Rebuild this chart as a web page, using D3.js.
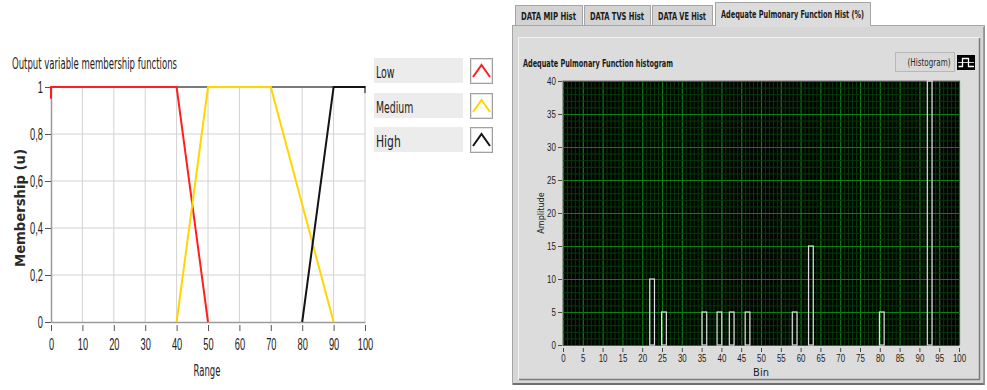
<!DOCTYPE html>
<html>
<head>
<meta charset="utf-8">
<script src="https://cdn.jsdelivr.net/npm/d3@7"></script>
<style>
  body { margin: 0; background: #ffffff; }
  svg { display: block; font-family: "Liberation Sans Narrow", "DejaVu Sans Condensed", sans-serif; }
</style>
</head>
<body>
<svg id="chart" width="987" height="390"></svg>
<script>
// ---------- Output variable membership functions ----------
const rangeTicks = [0, 10, 20, 30, 40, 50, 60, 70, 80, 90, 100];
const membershipTicks = [0, 0.2, 0.4, 0.6, 0.8, 1];
const lowRange = [0, 0, 40, 50];
const lowMembership = [0.95, 1, 1, 0];
const mediumRange = [40, 50, 70, 90];
const mediumMembership = [0, 1, 1, 0];
const highRange = [80, 90, 100];
const highMembership = [0, 1, 1];
const setNames = ["Low", "Medium", "High"];
const setColors = ["#ff1f1f", "#ffd600", "#141414"];

// ---------- Adequate Pulmonary Function histogram ----------
const tabNames = ["DATA MIP Hist", "DATA TVS Hist", "DATA VE Hist", "Adequate Pulmonary Function Hist (%)"];
const binTicks = [0, 5, 10, 15, 20, 25, 30, 35, 40, 45, 50, 55, 60, 65, 70, 75, 80, 85, 90, 95, 100];
const amplitudeTicks = [0, 5, 10, 15, 20, 25, 30, 35, 40];
const binStart = [21.9, 24.9, 35.1, 38.9, 42.0, 46.0, 57.9, 62.0, 79.9, 92.0];
const binCount = [10, 5, 5, 5, 5, 5, 5, 15, 5, 40];
const binWidth = 1.2;

const svg = d3.select("#chart");

// squeeze text horizontally while keeping its anchor position
function squeeze(sel, sx) {
  sel.each(function () {
    const t = d3.select(this);
    const x = +t.attr("x") || 0;
    t.attr("x", x / sx).attr("transform", `scale(${sx},1)`);
  });
}

// =============== left chart ===============
const xL = d3.scaleLinear().domain([0, 100]).range([51, 365]);
const yL = d3.scaleLinear().domain([0, 1]).range([322, 87]);
const left = svg.append("g");

left.append("text")
  .attr("x", 12).attr("y", 69)
  .attr("font-size", 16).attr("fill", "#222")
  .attr("textLength", 165).attr("lengthAdjust", "spacingAndGlyphs")
  .text("Output variable membership functions");

// grid
left.append("g").selectAll("line").data(rangeTicks.slice(1, -1)).join("line")
  .attr("x1", d => xL(d)).attr("x2", d => xL(d))
  .attr("y1", yL(0)).attr("y2", yL(1))
  .attr("stroke", "#d2d2d2").attr("stroke-width", 1);
left.append("g").selectAll("line").data(membershipTicks.slice(1, -1)).join("line")
  .attr("x1", xL(0)).attr("x2", xL(100))
  .attr("y1", d => yL(d)).attr("y2", d => yL(d))
  .attr("stroke", "#d2d2d2").attr("stroke-width", 1);

// frame: right edge and top edge
left.append("line").attr("x1", xL(100)).attr("x2", xL(100)).attr("y1", yL(1)).attr("y2", yL(0))
  .attr("stroke", "#cfcfcf");
left.append("line").attr("x1", xL(0)).attr("x2", xL(100) + 1).attr("y1", yL(1)).attr("y2", yL(1))
  .attr("stroke", "#7a7a7a").attr("stroke-width", 2);
left.append("line").attr("x1", xL(100)).attr("x2", xL(100)).attr("y1", yL(1) - 1).attr("y2", yL(1) + 6)
  .attr("stroke", "#555").attr("stroke-width", 1.5);

// axes
const fmtU = d => d === 0 ? "0" : d === 1 ? "1" : d3.format(".1f")(d).replace(".", ",");
const yAxisL = left.append("g").attr("transform", `translate(${xL(0)},0)`)
  .call(d3.axisLeft(yL).tickValues(membershipTicks).tickFormat(fmtU).tickSize(6).tickSizeOuter(0).tickPadding(2));
const xAxisL = left.append("g").attr("transform", `translate(0,${yL(0)})`)
  .call(d3.axisBottom(xL).tickValues(rangeTicks).tickSize(9).tickSizeOuter(0));
[yAxisL, xAxisL].forEach(a => {
  a.select(".domain").attr("stroke", "#9a9a9a").attr("stroke-width", 1.5);
  a.selectAll(".tick line").attr("stroke", "#555");
  a.selectAll(".tick text").attr("font-size", 16).attr("fill", "#222")
    .attr("font-family", "Liberation Sans Narrow, sans-serif");
});
xAxisL.selectAll(".tick line").attr("y1", 3);
xAxisL.selectAll(".tick text").attr("dy", 0).attr("y", 28);
yAxisL.selectAll(".tick text").attr("dy", "0.36em");
squeeze(yAxisL.selectAll(".tick text"), 0.58);
squeeze(xAxisL.selectAll(".tick text"), 0.58);

left.append("text")
  .attr("transform", "translate(25,208) rotate(-90)")
  .attr("text-anchor", "middle").attr("font-size", 14).attr("font-weight", "bold").attr("fill", "#2a2a2a")
  .attr("textLength", 118).attr("lengthAdjust", "spacingAndGlyphs")
  .text("Membership (u)");
left.append("text")
  .attr("x", 207).attr("y", 376).attr("text-anchor", "middle")
  .attr("font-size", 16).attr("fill", "#222")
  .attr("textLength", 27).attr("lengthAdjust", "spacingAndGlyphs")
  .text("Range");

// membership curves
const curveLine = d3.line().x(d => xL(d[0])).y(d => yL(d[1]));
const sets = [
  d3.zip(lowRange, lowMembership),
  d3.zip(mediumRange, mediumMembership),
  d3.zip(highRange, highMembership)
];
left.append("g").selectAll("path").data(sets).join("path")
  .attr("d", curveLine)
  .attr("fill", "none")
  .attr("stroke", (d, i) => setColors[i])
  .attr("stroke-width", 2)
  .attr("stroke-linejoin", "miter");

// legend
const legendRowY = [58, 93, 127];
const legend = left.append("g");
setNames.forEach((name, i) => {
  const y0 = legendRowY[i];
  legend.append("rect").attr("x", 374).attr("y", y0).attr("width", 89).attr("height", 25).attr("fill", "#ececec");
  legend.append("text").attr("x", 376).attr("y", y0 + 20)
    .attr("font-size", 16).attr("fill", "#222")
    .attr("textLength", name.length * 6.2).attr("lengthAdjust", "spacingAndGlyphs")
    .text(name);
  legend.append("rect").attr("x", 470.5).attr("y", y0 + 0.5).attr("width", 22).attr("height", 25)
    .attr("fill", "#ffffff").attr("stroke", "#a0a0a0");
  legend.append("rect").attr("x", 471.5).attr("y", y0 + 1.5).attr("width", 20).attr("height", 23)
    .attr("fill", "none").attr("stroke", "#e4e4e4");
  legend.append("polyline")
    .attr("points", `${473},${y0 + 19} ${481.5},${y0 + 7} ${490},${y0 + 19}`)
    .attr("fill", "none").attr("stroke", setColors[i]).attr("stroke-width", 2);
});

// =============== right panel ===============
const right = svg.append("g");

// tabs
const tabX = [[515, 582], [584, 650], [652, 712], [715, 870]];
tabNames.forEach((name, i) => {
  const [a, b] = tabX[i];
  const active = i === 3;
  right.append("rect")
    .attr("x", a + 0.5).attr("y", active ? 2.5 : 5.5)
    .attr("width", b - a).attr("height", active ? 24 : 21)
    .attr("fill", active ? "#dcdcdc" : "#d3d3d3")
    .attr("stroke", "#a4a4a4");
  right.append("text")
    .attr("x", (a + b) / 2).attr("y", active ? 18 : 20)
    .attr("text-anchor", "middle").attr("font-size", 10).attr("font-weight", "bold").attr("fill", "#1a1a1a")
    .attr("textLength", (b - a) - 12).attr("lengthAdjust", "spacingAndGlyphs")
    .text(name);
});

// panel body
right.append("rect").attr("x", 512.5).attr("y", 25.5).attr("width", 472).attr("height", 359)
  .attr("fill", "#d6d6d6").attr("stroke", "#a6a6a6");
// active tab joins the panel
right.append("rect").attr("x", 716).attr("y", 24).attr("width", 154).attr("height", 3).attr("fill", "#dcdcdc");
right.append("line").attr("x1", 513).attr("x2", 984).attr("y1", 384).attr("y2", 384).attr("stroke", "#6e6e6e").attr("stroke-width", 2);
right.append("line").attr("x1", 984).attr("x2", 984).attr("y1", 27).attr("y2", 385).attr("stroke", "#8a8a8a").attr("stroke-width", 1.5);

// inner box
right.append("rect").attr("x", 518).attr("y", 37).attr("width", 462).attr("height", 343).attr("fill", "#dcdcdc");
right.append("path").attr("d", "M518.5,380 V37.5 H980").attr("fill", "none").attr("stroke", "#f2f2f2");
right.append("path").attr("d", "M519,379.5 H979.5 V38").attr("fill", "none").attr("stroke", "#7c7c7c").attr("stroke-width", 1.5);

right.append("text")
  .attr("x", 523).attr("y", 67)
  .attr("font-size", 10).attr("font-weight", "bold").attr("fill", "#1a1a1a")
  .attr("textLength", 150).attr("lengthAdjust", "spacingAndGlyphs")
  .text("Adequate Pulmonary Function histogram");

// plot legend button
right.append("rect").attr("x", 895.5).attr("y", 52.5).attr("width", 59).attr("height", 19)
  .attr("fill", "#d9d9d9").attr("stroke", "#b8b8b8");
right.append("text").attr("x", 929).attr("y", 66).attr("text-anchor", "middle")
  .attr("font-size", 10).attr("fill", "#2a2a2a")
  .attr("textLength", 43).attr("lengthAdjust", "spacingAndGlyphs")
  .text("(Histogram)");
right.append("rect").attr("x", 957).attr("y", 55).attr("width", 18).attr("height", 15).attr("fill", "#000");
right.append("path").attr("d", "M958.5,66.5 H962.5 V58.5 H968.5 V66.5 H974")
  .attr("fill", "none").attr("stroke", "#fff").attr("stroke-width", 1.3);
right.append("line").attr("x1", 958).attr("x2", 974).attr("y1", 62.5).attr("y2", 62.5)
  .attr("stroke", "#fff").attr("stroke-width", 0.8);

// histogram plot area
const xR = d3.scaleLinear().domain([0, 100]).range([563, 959]);
const yR = d3.scaleLinear().domain([0, 40]).range([345, 81]);

right.append("rect").attr("x", xR(0) - 1).attr("y", yR(40) - 1)
  .attr("width", xR(100) - xR(0) + 2).attr("height", yR(0) - yR(40) + 2)
  .attr("fill", "#a8a8a8");
right.append("rect").attr("x", xR(0)).attr("y", yR(40))
  .attr("width", xR(100) - xR(0)).attr("height", yR(0) - yR(40))
  .attr("fill", "#010501");

const gridR = right.append("g");
gridR.selectAll(".vminor").data(xR.ticks(100)).join("line")
  .attr("x1", d => xR(d) + 0.5).attr("x2", d => xR(d) + 0.5)
  .attr("y1", yR(40)).attr("y2", yR(0))
  .attr("stroke", d => d % 5 === 0 ? "#0b7f12" : "#073a0a")
  .attr("stroke-width", d => d % 5 === 0 ? 1.2 : 1);
gridR.selectAll(".hminor").data(yR.ticks(40)).join("line")
  .attr("x1", xR(0)).attr("x2", xR(100))
  .attr("y1", d => yR(d) + 0.5).attr("y2", d => yR(d) + 0.5)
  .attr("stroke", d => d % 5 === 0 ? "#0b7f12" : "#073a0a")
  .attr("stroke-width", d => d % 5 === 0 ? 1.2 : 1);

// histogram bars
const bins = d3.zip(binStart, binCount);
right.append("g").selectAll("rect").data(bins).join("rect")
  .attr("x", d => xR(d[0]))
  .attr("y", d => yR(d[1]))
  .attr("width", d => xR(d[0] + binWidth) - xR(d[0]))
  .attr("height", d => yR(0) - yR(d[1]))
  .attr("fill", "none")
  .attr("stroke", "#e0e0e0")
  .attr("stroke-width", 1.2);

// axes
const yAxisR = right.append("g").attr("transform", `translate(${xR(0) - 1},0)`)
  .call(d3.axisLeft(yR).tickValues(amplitudeTicks).tickSize(4).tickSizeOuter(0).tickPadding(2));
const xAxisR = right.append("g").attr("transform", `translate(0,${yR(0) + 1})`)
  .call(d3.axisBottom(xR).tickValues(binTicks).tickSize(6).tickSizeOuter(0));
[yAxisR, xAxisR].forEach(a => {
  a.select(".domain").remove();
  a.selectAll(".tick line").attr("stroke", "#4a4a4a");
  a.selectAll(".tick text").attr("fill", "#1e1e1e")
    .attr("font-family", "Liberation Sans Narrow, sans-serif");
});
xAxisR.selectAll(".tick line").attr("y1", 2);
yAxisR.selectAll(".tick text").attr("font-size", 10).attr("dy", "0.36em");
xAxisR.selectAll(".tick text").attr("font-size", 11).attr("dy", 0).attr("y", 16);
squeeze(yAxisR.selectAll(".tick text"), 0.8);
squeeze(xAxisR.selectAll(".tick text"), 0.72);

right.append("text")
  .attr("transform", "translate(544,213) rotate(-90)")
  .attr("text-anchor", "middle").attr("font-size", 9).attr("fill", "#1e1e1e")
  .text("Amplitude");
right.append("text")
  .attr("x", xR(50)).attr("y", 376).attr("text-anchor", "middle")
  .attr("font-size", 11).attr("fill", "#1e1e1e")
  .text("Bin");
</script>
</body>
</html>
